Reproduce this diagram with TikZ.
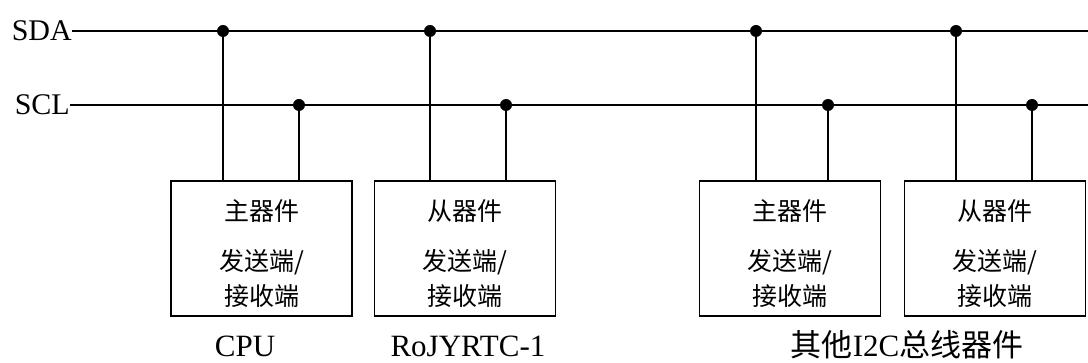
\documentclass[tikz,border=0pt]{standalone}
\usepackage{fontspec}
\setmainfont{Liberation Serif}
\newfontfamily\cjk{Noto Sans CJK SC}
\usetikzlibrary{positioning}

\begin{document}
\begin{tikzpicture}[x = 1pt, y = -1pt]
\tikzstyle{BusStyle} = [line width=1.7pt, color=black]
\tikzstyle{dotStyle} = [shape = circle, minimum size = 12pt, inner sep = 0pt, fill = black]
\tikzstyle{busLabelStyle} = [anchor = east, inner sep = 0pt, font = \fontsize{30}{36}\selectfont]
\tikzstyle{boxStyle} = [shape = rectangle, draw, line width = 1.7pt, minimum width = 181pt, minimum height = 135pt]
\tikzstyle{boxTextStyle} = [align = center, inner sep = 0pt, font = \fontsize{25}{35}\selectfont\cjk]
\tikzstyle{nameStyle} = [anchor = base, inner sep = 0pt, font = \fontsize{31}{36}\selectfont]
\useasboundingbox (0,0) rectangle (1088,363);
% bus lines
\node[busLabelStyle] (sda) at (72,31) {SDA};
\node[busLabelStyle] (scl) at (70,105) {SCL};
\coordinate (sdaEnd) at (1088,31);
\coordinate (sclEnd) at (1088,105);
\draw[BusStyle] (sda) -- (sdaEnd);
\draw[BusStyle] (scl) -- (sclEnd);
% devices
\node[boxStyle] (b1) at (261.5,248.5) {};
\node[boxStyle] (b2) at (465,248.5) {};
\node[boxStyle] (b3) at (790,248.5) {};
\node[boxStyle] (b4) at (995,248.5) {};
\node[boxTextStyle] (t1) at (261.5,254) {主器件\\[15pt]发送端/\\接收端};
\node[boxTextStyle] (t2) at (465,254) {从器件\\[15pt]发送端/\\接收端};
\node[boxTextStyle] (t3) at (790,254) {主器件\\[15pt]发送端/\\接收端};
\node[boxTextStyle] (t4) at (995,254) {从器件\\[15pt]发送端/\\接收端};
% taps
\node[dotStyle] (da1) at (223,31) {};
\node[dotStyle] (da2) at (430,31) {};
\node[dotStyle] (da3) at (756,31) {};
\node[dotStyle] (da4) at (956,31) {};
\node[dotStyle] (dc1) at (299,105) {};
\node[dotStyle] (dc2) at (506,105) {};
\node[dotStyle] (dc3) at (828,105) {};
\node[dotStyle] (dc4) at (1032,105) {};
\draw[BusStyle] (da1) -- (da1 |- b1.north);
\draw[BusStyle] (dc1) -- (dc1 |- b1.north);
\draw[BusStyle] (da2) -- (da2 |- b2.north);
\draw[BusStyle] (dc2) -- (dc2 |- b2.north);
\draw[BusStyle] (da3) -- (da3 |- b3.north);
\draw[BusStyle] (dc3) -- (dc3 |- b3.north);
\draw[BusStyle] (da4) -- (da4 |- b4.north);
\draw[BusStyle] (dc4) -- (dc4 |- b4.north);
% names
\node[nameStyle] (n1) at (245,357) {CPU};
\node[nameStyle] (n2) at (468,357) {RoJYRTC-1};
\node[nameStyle] (n3) at (907,357) {{\cjk 其他}I2C{\cjk 总线器件}};
\end{tikzpicture}
\end{document}
